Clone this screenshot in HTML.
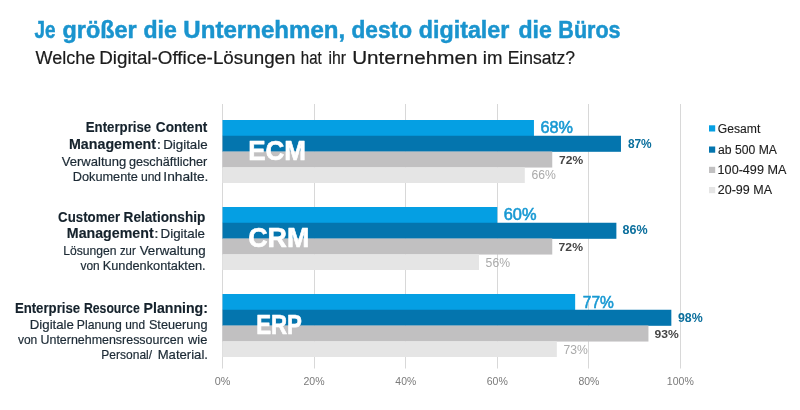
<!DOCTYPE html>
<html><head><meta charset="utf-8"><title>Chart</title>
<style>
html,body{margin:0;padding:0;background:#fff;}
body{width:800px;height:410px;overflow:hidden;font-family:"Liberation Sans",sans-serif;}
svg{display:block;will-change:transform;transform:translateZ(0);font-family:"Liberation Sans",sans-serif;}
.t{font-size:24.4px;font-weight:bold;fill:#1a94ce;stroke:#1a94ce;stroke-width:0.5px;}
.s{font-size:17.6px;fill:#1b1b1b;stroke:#1b1b1b;stroke-width:0.2px;}
.b{font-size:14.3px;font-weight:bold;fill:#15222c;stroke:#15222c;stroke-width:0.15px;}
.r{font-size:13px;fill:#1c2a35;stroke:#1c2a35;stroke-width:0.2px;}
.big{font-size:28.4px;font-weight:bold;fill:#fff;stroke:#fff;stroke-width:0.7px;stroke-linejoin:round;}
.ax{font-size:10.2px;fill:#7a7a7a;}
.lg{font-size:12.3px;fill:#1d1d1d;stroke:#1d1d1d;stroke-width:0.12px;}
.v0{font-size:15.8px;fill:#1899d3;stroke:#1899d3;stroke-width:0.55px;}
.v1{font-size:12px;font-weight:bold;fill:#0b6f9d;}
.v2{font-size:11.6px;font-weight:bold;fill:#454545;}
.v3{font-size:12px;fill:#aaaaaa;}
</style></head><body>
<svg width="800" height="410" viewBox="0 0 800 410">
<rect width="800" height="410" fill="#ffffff"/>

<text class="t" x="34.50" y="37.50" textLength="20.97" lengthAdjust="spacingAndGlyphs">Je</text>
<text class="t" x="62.52" y="37.50" textLength="74.06" lengthAdjust="spacingAndGlyphs">größer</text>
<text class="t" x="143.53" y="37.50" textLength="33.29" lengthAdjust="spacingAndGlyphs">die</text>
<text class="t" x="183.37" y="37.50" textLength="161.80" lengthAdjust="spacingAndGlyphs">Unternehmen,</text>
<text class="t" x="351.54" y="37.50" textLength="60.45" lengthAdjust="spacingAndGlyphs">desto</text>
<text class="t" x="418.77" y="37.50" textLength="90.56" lengthAdjust="spacingAndGlyphs">digitaler</text>
<text class="t" x="518.48" y="37.50" textLength="33.35" lengthAdjust="spacingAndGlyphs">die</text>
<text class="t" x="558.35" y="37.50" textLength="62.22" lengthAdjust="spacingAndGlyphs">Büros</text>
<text class="s" x="35.50" y="63.70" textLength="59.73" lengthAdjust="spacingAndGlyphs">Welche</text>
<text class="s" x="99.28" y="63.70" textLength="196.28" lengthAdjust="spacingAndGlyphs">Digital-Office-Lösungen</text>
<text class="s" x="300.81" y="63.70" textLength="20.89" lengthAdjust="spacingAndGlyphs">hat</text>
<text class="s" x="328.51" y="63.70" textLength="17.57" lengthAdjust="spacingAndGlyphs">ihr</text>
<text class="s" x="352.21" y="63.70" textLength="125.20" lengthAdjust="spacingAndGlyphs">Unternehmen</text>
<text class="s" x="482.84" y="63.70" textLength="19.63" lengthAdjust="spacingAndGlyphs">im</text>
<text class="s" x="507.63" y="63.70" textLength="67.31" lengthAdjust="spacingAndGlyphs">Einsatz?</text>
<rect x="222" y="104" width="1" height="264.5" fill="#d8d8d8"/>
<rect x="314" y="104" width="1" height="264.5" fill="#d8d8d8"/>
<rect x="405" y="104" width="1" height="264.5" fill="#d8d8d8"/>
<rect x="497" y="104" width="1" height="264.5" fill="#d8d8d8"/>
<rect x="588" y="104" width="1" height="264.5" fill="#d8d8d8"/>
<rect x="680" y="104" width="1" height="264.5" fill="#d8d8d8"/>
<rect x="222.5" y="120.00" width="311.44" height="16.05" fill="#059fe3"/>
<rect x="222.5" y="135.75" width="398.46" height="16.05" fill="#0475ae"/>
<rect x="222.5" y="151.50" width="329.76" height="16.05" fill="#c1c0c1"/>
<rect x="222.5" y="167.25" width="302.28" height="15.75" fill="#e5e5e5"/>
<rect x="222.5" y="207.00" width="274.80" height="16.05" fill="#059fe3"/>
<rect x="222.5" y="222.75" width="393.88" height="16.05" fill="#0475ae"/>
<rect x="222.5" y="238.50" width="329.76" height="16.05" fill="#c1c0c1"/>
<rect x="222.5" y="254.25" width="256.48" height="15.75" fill="#e5e5e5"/>
<rect x="222.5" y="294.00" width="352.66" height="16.05" fill="#059fe3"/>
<rect x="222.5" y="309.75" width="448.84" height="16.05" fill="#0475ae"/>
<rect x="222.5" y="325.50" width="425.94" height="16.05" fill="#c1c0c1"/>
<rect x="222.5" y="341.25" width="334.34" height="15.75" fill="#e5e5e5"/>
<text class="big" x="248.23" y="159.70" textLength="57.77" lengthAdjust="spacingAndGlyphs">ECM</text>
<text class="big" x="248.26" y="247.20" textLength="61.02" lengthAdjust="spacingAndGlyphs">CRM</text>
<text class="big" x="256.16" y="334.00" textLength="45.78" lengthAdjust="spacingAndGlyphs">ERP</text>
<text class="v0" x="540.49" y="132.50" textLength="32.49" lengthAdjust="spacingAndGlyphs">68%</text>
<text class="v1" x="627.88" y="147.50" textLength="23.79" lengthAdjust="spacingAndGlyphs">87%</text>
<text class="v2" x="559.12" y="163.75" textLength="24.05" lengthAdjust="spacingAndGlyphs">72%</text>
<text class="v3" x="531.43" y="179.40" textLength="24.44" lengthAdjust="spacingAndGlyphs">66%</text>
<text class="v0" x="503.73" y="219.70" textLength="32.75" lengthAdjust="spacingAndGlyphs">60%</text>
<text class="v1" x="622.61" y="234.30" textLength="25.07" lengthAdjust="spacingAndGlyphs">86%</text>
<text class="v2" x="558.62" y="250.90" textLength="24.35" lengthAdjust="spacingAndGlyphs">72%</text>
<text class="v3" x="485.62" y="267.00" textLength="24.45" lengthAdjust="spacingAndGlyphs">56%</text>
<text class="v0" x="582.77" y="307.70" textLength="31.09" lengthAdjust="spacingAndGlyphs">77%</text>
<text class="v1" x="677.91" y="322.40" textLength="24.76" lengthAdjust="spacingAndGlyphs">98%</text>
<text class="v2" x="654.62" y="338.00" textLength="24.25" lengthAdjust="spacingAndGlyphs">93%</text>
<text class="v3" x="563.43" y="353.90" textLength="24.33" lengthAdjust="spacingAndGlyphs">73%</text>
<text class="ax" x="214.66" y="384.90" textLength="15.66" lengthAdjust="spacingAndGlyphs">0%</text>
<text class="ax" x="303.46" y="384.90" textLength="21.11" lengthAdjust="spacingAndGlyphs">20%</text>
<text class="ax" x="395.39" y="384.90" textLength="20.77" lengthAdjust="spacingAndGlyphs">40%</text>
<text class="ax" x="486.66" y="384.90" textLength="21.11" lengthAdjust="spacingAndGlyphs">60%</text>
<text class="ax" x="578.42" y="384.90" textLength="20.94" lengthAdjust="spacingAndGlyphs">80%</text>
<text class="ax" x="666.84" y="384.90" textLength="26.97" lengthAdjust="spacingAndGlyphs">100%</text>
<rect x="709" y="125.30" width="6.2" height="6.2" fill="#059fe3"/>
<text class="lg" x="717.83" y="132.70" textLength="42.53" lengthAdjust="spacingAndGlyphs">Gesamt</text>
<rect x="709" y="146.50" width="6.2" height="6.2" fill="#0475ae"/>
<text class="lg" x="718.02" y="153.90" textLength="58.92" lengthAdjust="spacingAndGlyphs">ab 500 MA</text>
<rect x="709" y="166.80" width="6.2" height="6.2" fill="#c1c0c1"/>
<text class="lg" x="717.61" y="174.20" textLength="68.73" lengthAdjust="spacingAndGlyphs">100-499 MA</text>
<rect x="709" y="187.00" width="6.2" height="6.2" fill="#e5e5e5"/>
<text class="lg" x="717.81" y="194.40" textLength="54.23" lengthAdjust="spacingAndGlyphs">20-99 MA</text>
<text class="b" x="85.77" y="131.80" textLength="65.46" lengthAdjust="spacingAndGlyphs">Enterprise</text>
<text class="b" x="155.87" y="131.80" textLength="51.39" lengthAdjust="spacingAndGlyphs">Content</text>
<text class="b" x="69.01" y="149.40" textLength="87.06" lengthAdjust="spacingAndGlyphs">Management</text>
<text class="r" x="156.79" y="149.40" textLength="4.32" lengthAdjust="spacingAndGlyphs">:</text>
<text class="r" x="163.16" y="149.40" textLength="44.48" lengthAdjust="spacingAndGlyphs">Digitale</text>
<text class="r" x="61.80" y="165.80" textLength="64.43" lengthAdjust="spacingAndGlyphs">Verwaltung</text>
<text class="r" x="128.90" y="165.80" textLength="78.36" lengthAdjust="spacingAndGlyphs">geschäftlicher</text>
<text class="r" x="72.75" y="180.90" textLength="65.16" lengthAdjust="spacingAndGlyphs">Dokumente</text>
<text class="r" x="140.95" y="180.90" textLength="20.13" lengthAdjust="spacingAndGlyphs">und</text>
<text class="r" x="163.33" y="180.90" textLength="45.12" lengthAdjust="spacingAndGlyphs">Inhalte.</text>
<text class="b" x="58.08" y="221.50" textLength="62.00" lengthAdjust="spacingAndGlyphs">Customer</text>
<text class="b" x="123.55" y="221.50" textLength="81.80" lengthAdjust="spacingAndGlyphs">Relationship</text>
<text class="b" x="66.81" y="238.20" textLength="86.86" lengthAdjust="spacingAndGlyphs">Management</text>
<text class="r" x="154.39" y="238.20" textLength="4.32" lengthAdjust="spacingAndGlyphs">:</text>
<text class="r" x="160.56" y="238.20" textLength="44.48" lengthAdjust="spacingAndGlyphs">Digitale</text>
<text class="r" x="63.15" y="255.00" textLength="53.33" lengthAdjust="spacingAndGlyphs">Lösungen</text>
<text class="r" x="119.95" y="255.00" textLength="15.71" lengthAdjust="spacingAndGlyphs">zur</text>
<text class="r" x="139.70" y="255.00" textLength="65.95" lengthAdjust="spacingAndGlyphs">Verwaltung</text>
<text class="r" x="80.50" y="270.00" textLength="19.17" lengthAdjust="spacingAndGlyphs">von</text>
<text class="r" x="102.70" y="270.00" textLength="102.95" lengthAdjust="spacingAndGlyphs">Kundenkontakten.</text>
<text class="b" x="14.88" y="313.00" textLength="65.25" lengthAdjust="spacingAndGlyphs">Enterprise</text>
<text class="b" x="83.94" y="313.00" textLength="55.77" lengthAdjust="spacingAndGlyphs">Resource</text>
<text class="b" x="143.52" y="313.00" textLength="64.46" lengthAdjust="spacingAndGlyphs">Planning:</text>
<text class="r" x="29.77" y="328.70" textLength="44.17" lengthAdjust="spacingAndGlyphs">Digitale</text>
<text class="r" x="76.85" y="328.70" textLength="44.84" lengthAdjust="spacingAndGlyphs">Planung</text>
<text class="r" x="125.26" y="328.70" textLength="19.81" lengthAdjust="spacingAndGlyphs">und</text>
<text class="r" x="148.90" y="328.70" textLength="58.61" lengthAdjust="spacingAndGlyphs">Steuerung</text>
<text class="r" x="17.90" y="343.80" textLength="19.37" lengthAdjust="spacingAndGlyphs">von</text>
<text class="r" x="40.52" y="343.80" textLength="143.08" lengthAdjust="spacingAndGlyphs">Unternehmensressourcen</text>
<text class="r" x="188.00" y="343.80" textLength="19.32" lengthAdjust="spacingAndGlyphs">wie</text>
<text class="r" x="101.36" y="359.00" textLength="50.70" lengthAdjust="spacingAndGlyphs">Personal/</text>
<text class="r" x="157.67" y="359.00" textLength="50.31" lengthAdjust="spacingAndGlyphs">Material.</text>
</svg></body></html>
